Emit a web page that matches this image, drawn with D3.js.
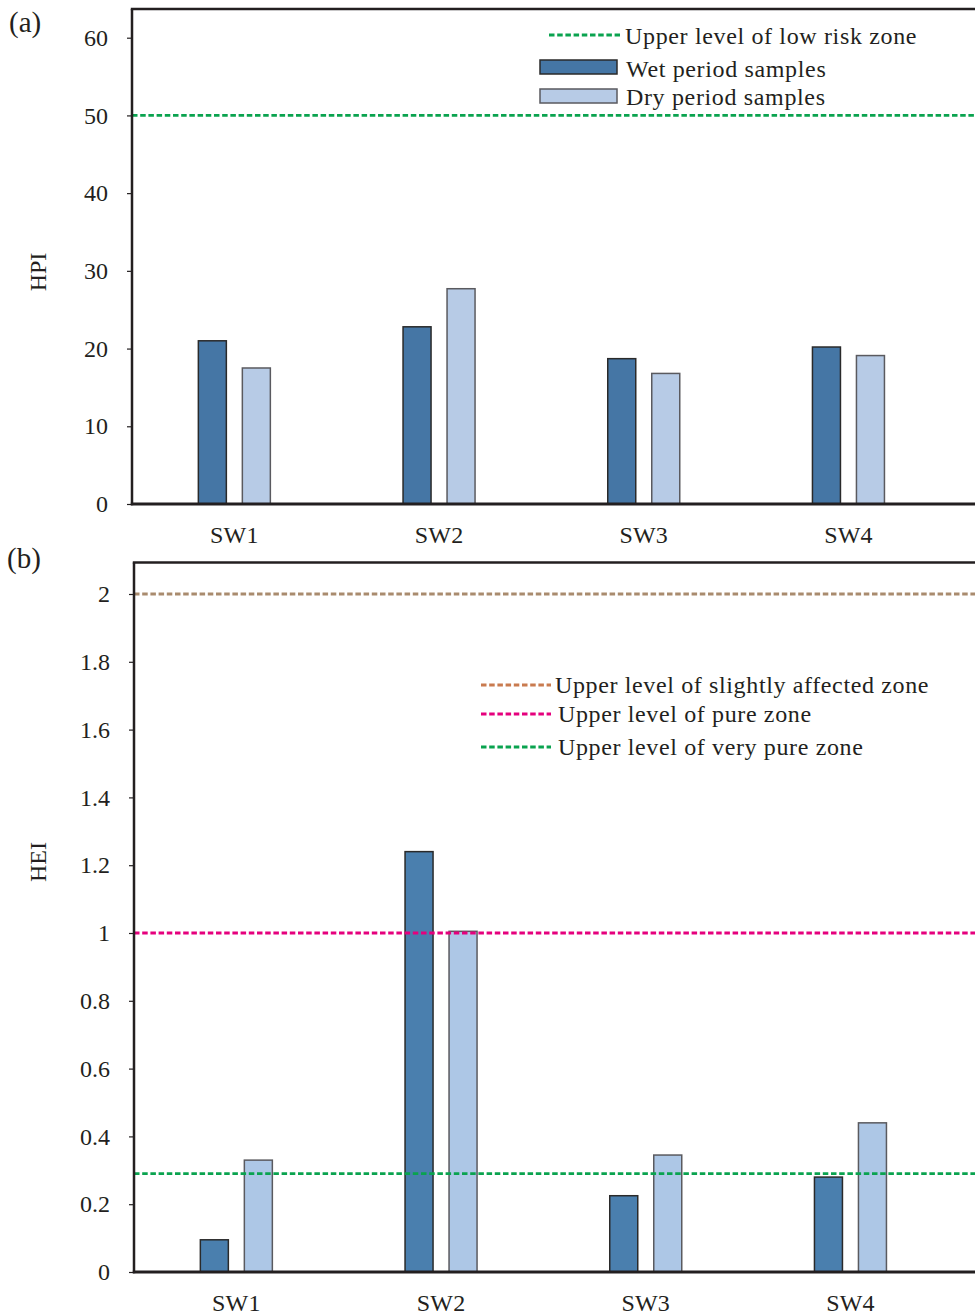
<!DOCTYPE html>
<html>
<head>
<meta charset="utf-8">
<script src="https://cdn.jsdelivr.net/npm/d3@7"></script>
<style>
  body { margin: 0; background: #fff; }
  svg { display: block; }
  text { font-family: "Liberation Serif", "Times New Roman", serif; fill: #231f20; }
</style>
</head>
<body>
<svg id="chart" width="975" height="1315"></svg>
<script>
// ---------- data ----------
const categories = ["SW1", "SW2", "SW3", "SW4"];
const hpiWet = [21.0, 22.8, 18.7, 20.2];
const hpiDry = [17.5, 27.7, 16.8, 19.1];
const heiWet = [0.095, 1.24, 0.225, 0.28];
const heiDry = [0.33, 1.005, 0.345, 0.44];
const hpiTicks = [0, 10, 20, 30, 40, 50, 60];
const heiTicks = [0, 0.2, 0.4, 0.6, 0.8, 1, 1.2, 1.4, 1.6, 1.8, 2];
const hpiThresholds = [{ label: "Upper level of low risk zone", value: 50 }];
const heiThresholds = [
  { label: "Upper level of slightly affected zone", value: 2 },
  { label: "Upper level of pure zone", value: 1 },
  { label: "Upper level of very pure zone", value: 0.29 }
];
const seriesNames = ["Wet period samples", "Dry period samples"];

// ---------- styles ----------
const ink = "#231f20";
const green = "#0aa34f";
const pink = "#e5007d";
const brownLine = "#a98b6e";
const brownLegend = "#c97b4f";
const dash = "5.5,2.7";
const dashW = 2.8;
const fs = 24;

const svg = d3.select("#chart");

function panel(opts) {
  const g = svg.append("g");
  const x = d3.scaleBand().domain(categories).range([opts.left, opts.left + 4 * 204.7]).padding(0);
  const y = d3.scaleLinear().domain([0, opts.yMax]).range([opts.bottom, opts.top]);

  // bars
  const off = 22, bw = 28;
  const wet = opts.wet.map((v, i) => ({ c: categories[i], v }));
  const dry = opts.dry.map((v, i) => ({ c: categories[i], v }));
  g.selectAll(".wet").data(wet).join("rect")
    .attr("x", d => x(d.c) + x.bandwidth() / 2 - off - bw / 2)
    .attr("y", d => y(d.v))
    .attr("width", bw)
    .attr("height", d => y(0) - y(d.v))
    .attr("fill", opts.wetColor).attr("stroke", "#2a2a2a").attr("stroke-width", 1.5);
  g.selectAll(".dry").data(dry).join("rect")
    .attr("x", d => x(d.c) + x.bandwidth() / 2 + off - bw / 2)
    .attr("y", d => y(d.v))
    .attr("width", bw)
    .attr("height", d => y(0) - y(d.v))
    .attr("fill", opts.dryColor).attr("stroke", "#5a5a5f").attr("stroke-width", 1.5);

  // threshold lines
  opts.thresholds.forEach((t, i) => {
    g.append("line")
      .attr("x1", opts.left).attr("x2", 975)
      .attr("y1", y(t.value)).attr("y2", y(t.value))
      .attr("stroke", opts.lineColors[i]).attr("stroke-width", dashW)
      .attr("stroke-dasharray", dash);
  });

  // y axis
  const yAxis = d3.axisLeft(y).tickValues(opts.ticks).tickSize(5).tickPadding(19)
    .tickFormat(d => String(d));
  const ya = g.append("g").attr("transform", `translate(${opts.left},0)`).call(yAxis);
  ya.select(".domain").remove();
  ya.selectAll(".tick line").attr("stroke", ink).attr("stroke-width", 1.2);
  ya.selectAll(".tick text").attr("font-size", fs).attr("fill", ink)
    .style("font-family", '"Liberation Serif", "Times New Roman", serif');

  // frame lines
  g.append("line").attr("x1", opts.left).attr("x2", opts.left)
    .attr("y1", opts.frameTop).attr("y2", opts.bottom + 1.2)
    .attr("stroke", ink).attr("stroke-width", 2.5);
  g.append("line").attr("x1", opts.left - 1.2).attr("x2", 975)
    .attr("y1", opts.frameTop).attr("y2", opts.frameTop)
    .attr("stroke", ink).attr("stroke-width", 2.5);
  g.append("line").attr("x1", opts.left - 1.2).attr("x2", 975)
    .attr("y1", opts.bottom).attr("y2", opts.bottom)
    .attr("stroke", ink).attr("stroke-width", 2.8);

  // x labels
  const xAxis = d3.axisBottom(x).tickSize(0).tickPadding(0);
  const xa = g.append("g").attr("transform", `translate(0,${opts.bottom})`).call(xAxis);
  xa.select(".domain").remove();
  xa.selectAll(".tick text").attr("font-size", fs).attr("fill", ink)
    .attr("dy", null).attr("y", opts.xLabelDy).attr("letter-spacing", 0.2)
    .style("font-family", '"Liberation Serif", "Times New Roman", serif');

  // y title
  g.append("text")
    .attr("transform", `translate(46,${opts.titleY}) rotate(-90)`)
    .attr("text-anchor", "middle").attr("font-size", fs).text(opts.title);

  // panel letter
  g.append("text").attr("x", opts.letterX).attr("y", opts.letterY)
    .attr("font-size", 29).text(opts.letter);
  return g;
}

// panel (a)
const ga = panel({
  left: 132, top: 9, frameTop: 9, bottom: 504,
  yMax: 60 * (504 - 9) / (504 - 37.7),
  ticks: hpiTicks, wet: hpiWet, dry: hpiDry,
  wetColor: "#4576a5", dryColor: "#b7cbe6",
  thresholds: hpiThresholds, lineColors: [green],
  title: "HPI", titleY: 272, letter: "(a)", letterX: 9, letterY: 32, xLabelDy: 39
});
// legend (a)
ga.append("line").attr("x1", 549).attr("x2", 620).attr("y1", 35).attr("y2", 35)
  .attr("stroke", green).attr("stroke-width", dashW).attr("stroke-dasharray", dash);
ga.append("text").attr("x", 625).attr("y", 44).attr("font-size", fs).attr("letter-spacing", 0.65)
  .text(hpiThresholds[0].label);
ga.append("rect").attr("x", 540).attr("y", 60).attr("width", 77).attr("height", 14)
  .attr("fill", "#4576a5").attr("stroke", "#2a2a2a").attr("stroke-width", 1.5);
ga.append("text").attr("x", 626).attr("y", 77).attr("font-size", fs).attr("letter-spacing", 0.65)
  .text(seriesNames[0]);
ga.append("rect").attr("x", 540).attr("y", 89).attr("width", 77).attr("height", 14)
  .attr("fill", "#b7cbe6").attr("stroke", "#5a5a5f").attr("stroke-width", 1.5);
ga.append("text").attr("x", 626).attr("y", 105).attr("font-size", fs).attr("letter-spacing", 0.65)
  .text(seriesNames[1]);

// panel (b)
const gb = panel({
  left: 134, top: 562.5, frameTop: 562.5, bottom: 1272,
  yMax: 2 * (1272 - 562.5) / (1272 - 594),
  ticks: heiTicks, wet: heiWet, dry: heiDry,
  wetColor: "#4a7fae", dryColor: "#adc7e6",
  thresholds: heiThresholds, lineColors: [brownLine, pink, green],
  title: "HEI", titleY: 862, letter: "(b)", letterX: 7, letterY: 568, xLabelDy: 39
});
const legYs = [685, 714, 747];
const legCols = [brownLegend, pink, green];
const legTx = [555, 558, 558];
heiThresholds.forEach((t, i) => {
  gb.append("line").attr("x1", 481).attr("x2", 551).attr("y1", legYs[i]).attr("y2", legYs[i])
    .attr("stroke", legCols[i]).attr("stroke-width", dashW).attr("stroke-dasharray", dash);
  gb.append("text").attr("x", legTx[i]).attr("y", legYs[i] + 8).attr("font-size", fs)
    .attr("letter-spacing", 0.63).text(t.label);
});
</script>
</body>
</html>
